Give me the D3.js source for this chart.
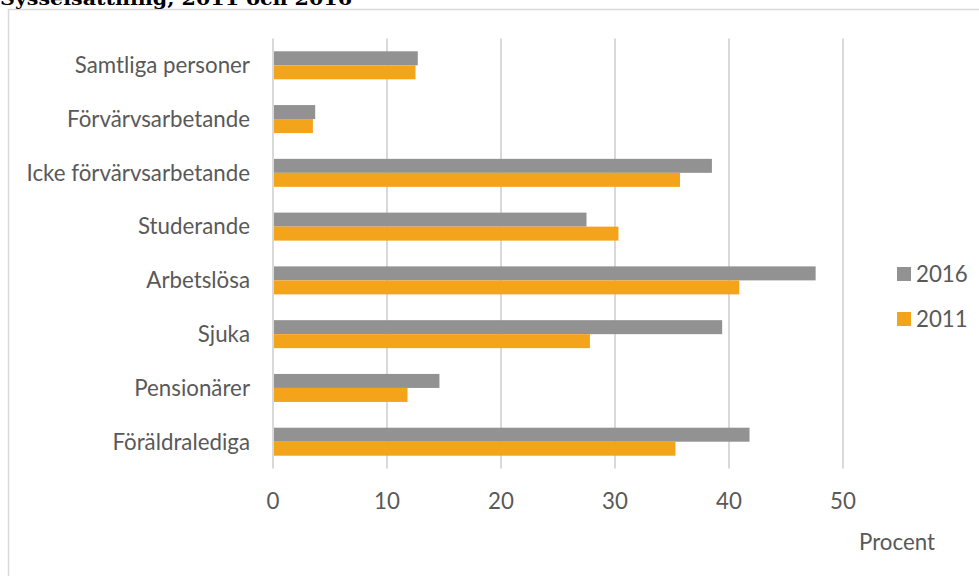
<!DOCTYPE html>
<html><head><meta charset="utf-8">
<script src="https://cdn.jsdelivr.net/npm/d3@7"></script>
<style>html,body{margin:0;padding:0;background:#fff;overflow:hidden}</style>
</head><body>
<svg id="c" width="979" height="576"></svg>
<script>
const title = "Sysselsättning, 2011 och 2016";
const categories = ["Samtliga personer","Förvärvsarbetande","Icke förvärvsarbetande","Studerande","Arbetslösa","Sjuka","Pensionärer","Föräldralediga"];
const seriesNames = ["2016","2011"];
const values2016 = [12.7, 3.7, 38.5, 27.5, 47.6, 39.4, 14.6, 41.8];
const values2011 = [12.5, 3.5, 35.7, 30.3, 40.9, 27.8, 11.8, 35.3];
const xTicks = [0,10,20,30,40,50];
const axisTitle = "Procent";
const colors = {"2016":"#929292","2011":"#F4A41A"};

const svg = d3.select("#c");
const font = "Lato, 'Open Sans', sans-serif";
const fs = 22.3;
// border box
svg.append("rect").attr("x",8.5).attr("y",9.5).attr("width",1000).attr("height",600)
  .attr("fill","none").attr("stroke","#d9d9d9").attr("stroke-width",1.5);
// title (cut off at top, as in the reference)
svg.append("text").attr("x",0).attr("y",5).text(title)
  .attr("font-family","'DejaVu Serif', serif").attr("font-weight","bold").attr("font-size",19)
  .attr("textLength",352).attr("lengthAdjust","spacingAndGlyphs").attr("fill","#000");

const x = d3.scaleLinear().domain([0,55]).range([273, 273+55*11.4]);
const y = d3.scaleBand().domain(categories).range([38.4,468.6]).paddingInner(0).paddingOuter(0);
const inner = d3.scaleBand().domain(seriesNames).range([(y.bandwidth()-28)/2, (y.bandwidth()+28)/2]);

// gridlines
svg.append("g").selectAll("line").data(xTicks).join("line")
  .attr("x1",d=>x(d)).attr("x2",d=>x(d)).attr("y1",38.4).attr("y2",468.6)
  .attr("stroke","#d9d9d9").attr("stroke-width",2);

const data = categories.map((c,i)=>({cat:c, vals:[{s:"2016",v:values2016[i]},{s:"2011",v:values2011[i]}]}));
const g = svg.append("g").selectAll("g").data(data).join("g").attr("transform",d=>`translate(0,${y(d.cat)})`);
g.selectAll("rect").data(d=>d.vals).join("rect")
  .attr("x",x(0)+1).attr("y",d=>inner(d.s)).attr("height",inner.bandwidth())
  .attr("width",d=>x(d.v)-x(0)-1).attr("fill",d=>colors[d.s]);

// category labels
svg.append("g").selectAll("text").data(categories).join("text")
  .attr("x",250).attr("y",d=>y(d)+y.bandwidth()/2).attr("dy","0.35em").attr("text-anchor","end")
  .attr("font-family",font).attr("font-size",fs).attr("fill","#595959").text(d=>d);

// x tick labels
svg.append("g").selectAll("text").data(xTicks).join("text")
  .attr("x",d=>x(d)).attr("y",501).attr("dy","0.35em").attr("text-anchor","middle")
  .attr("font-family",font).attr("font-size",fs).attr("fill","#595959").text(d=>d);

svg.append("text").attr("x",935).attr("y",542).attr("dy","0.35em").attr("text-anchor","end")
  .attr("font-family",font).attr("font-size",fs).attr("fill","#595959").text(axisTitle);

// legend
const leg = svg.append("g").selectAll("g").data(seriesNames).join("g")
  .attr("transform",(d,i)=>`translate(897,${267+i*45})`);
leg.append("rect").attr("width",14).attr("height",14).attr("fill",d=>colors[d]);
leg.append("text").attr("x",19).attr("y",7).attr("dy","0.35em")
  .attr("font-family",font).attr("font-size",fs).attr("fill","#595959").text(d=>d);
</script>
</body></html>
